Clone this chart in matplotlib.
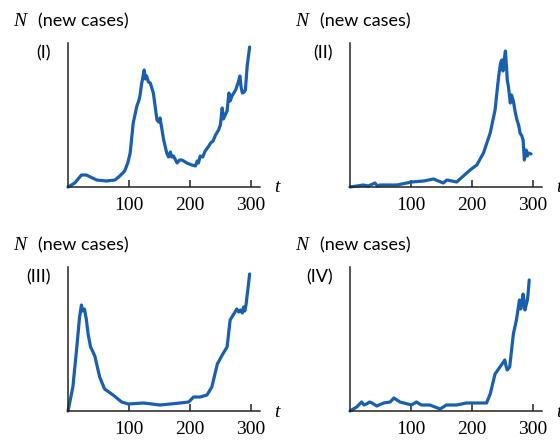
import numpy as np
import matplotlib
matplotlib.use("Agg")
import matplotlib.pyplot as plt

# data (t in days, N in arbitrary units)
t1 = [0, 11, 22, 30, 47, 63, 77, 85, 93, 98, 102, 107, 113, 116, 118, 121, 123, 125,
      127, 129, 132, 135, 140, 146, 149, 151, 154, 157, 162, 165, 168, 170, 173,
      179, 183, 187, 195, 203, 209, 212, 214, 217, 221, 225, 230, 234, 238, 242,
      247, 250, 253, 255, 258, 261, 264, 266, 269, 275, 279, 282, 284, 286, 289,
      291, 294, 298]
n1 = [0, 4, 12, 12, 7, 6, 7, 11, 16, 24, 34, 64, 81, 86, 91, 104, 110, 117,
      108, 111, 105, 104, 94, 67, 65, 69, 58, 47, 34, 30, 35, 30, 31,
      24, 27, 27, 24, 22, 21, 26, 24, 31, 30, 36, 40, 44, 46, 52,
      57, 62, 79, 68, 72, 76, 94, 86, 91, 97, 104, 111, 100, 94, 95,
      97, 121, 140]

t2 = [0, 22, 30, 41, 45, 49, 77, 101, 121, 137, 153, 159, 175, 186, 197, 208, 219,
      230, 238, 242, 244, 247, 249, 251, 253, 255, 257, 258, 260, 263, 265, 268,
      271, 274, 277, 279, 282, 284, 286, 289, 291, 293, 297]
n2 = [0, 2, 1, 4, 1, 2, 2, 5, 6, 8, 4, 7, 5, 11, 17, 22, 34,
      54, 77, 100, 111, 124, 127, 116, 128, 136, 118, 107, 100, 84, 92, 86,
      75, 67, 61, 54, 51, 47, 27, 37, 31, 34, 33]

t3 = [0, 8, 14, 19, 22, 24, 27, 30, 33, 37, 41, 44, 47, 52, 60, 74, 88, 99, 124,
      151, 168, 184, 198, 206, 217, 228, 236, 245, 253, 261, 266, 272, 277, 280,
      283, 286, 288, 290, 292, 295, 298]
n3 = [0, 24, 61, 94, 106, 100, 102, 92, 77, 64, 59, 55, 47, 34, 22, 16, 9, 7, 8,
      6, 7, 8, 9, 14, 14, 16, 24, 47, 56, 64, 91, 97, 102, 99,
      101, 98, 104, 100, 106, 121, 137]

t4 = [0, 11, 19, 23, 27, 32, 36, 44, 55, 66, 72, 82, 101, 109, 117, 131, 148, 158, 175,
      191, 213, 224, 230, 238, 246, 254, 256, 258, 262, 268, 273, 278, 280, 281,
      284, 286, 287, 291, 292, 294]
n4 = [0, 4, 9, 6, 7, 9, 8, 5, 8, 9, 13, 9, 6, 9, 6, 6, 2, 6, 6,
      8, 8, 8, 17, 37, 44, 51, 45, 41, 44, 77, 91, 111, 102, 104,
      117, 108, 101, 111, 116, 131]

series = [(t1, n1), (t2, n2), (t3, n3), (t4, n4)]
labels = ["(I)", "(II)", "(III)", "(IV)"]
ticks = [100, 200, 300]

W, H = 560, 440
blue = "#1a5fae"
serif = "Liberation Serif"
sans = "Lato"

fig = plt.figure(figsize=(W / 100, H / 100), dpi=100)

# origin of each panel in pixels (x, y from top)
origins = [(68, 187), (350, 187), (68, 411), (350, 411)]
ax_w, ax_h = 192, 144

for (t, n), lab, (ox, oy) in zip(series, labels, origins):
    ax = fig.add_axes([ox / W, 1 - oy / H, ax_w / W, ax_h / H])
    ax.plot(t, n, color=blue, lw=2.3, solid_joinstyle="round", solid_capstyle="round",
            clip_on=False)
    ax.set_xlim(0, 315)
    ax.set_ylim(0, 144)
    for s in ["top", "right"]:
        ax.spines[s].set_visible(False)
    for s in ["left", "bottom"]:
        ax.spines[s].set_color("#222222")
        ax.spines[s].set_linewidth(1.1)
    ax.set_yticks([])
    ax.set_xticks(ticks)
    ax.tick_params(axis="x", direction="in", length=5, width=1.1, color="#222222",
                   pad=7, labelsize=14)
    for lbl in ax.get_xticklabels():
        lbl.set_fontfamily(serif)
    # axis labels
    fig.text((ox - 55) / W, 1 - (oy - 166) / H, "N", family=serif, style="italic",
             fontsize=14, va="center", ha="left")
    fig.text((ox - 30) / W, 1 - (oy - 166) / H, "(new cases)", family=sans,
             fontsize=13, va="center", ha="left")
    fig.text((ox - 17) / W, 1 - (oy - 134) / H, lab, family=sans,
             fontsize=13, va="center", ha="right")
    fig.text((ox + 206) / W, 1 - (oy + 1) / H, "t", family=serif, style="italic",
             fontsize=14, va="center", ha="left")

fig.savefig("out.png", dpi=100)
